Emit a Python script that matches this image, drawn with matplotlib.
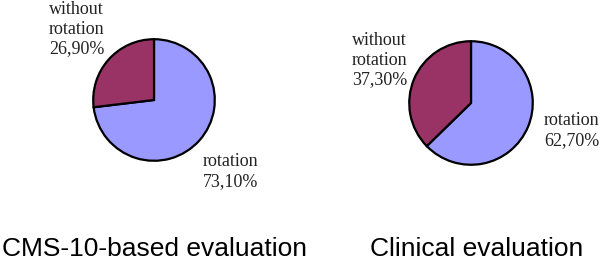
import matplotlib
matplotlib.use("Agg")
from matplotlib import pyplot as plt

# data
slice_names = ['rotation', 'without rotation']
cms_values = [73.1, 26.9]
clinical_values = [62.7, 37.3]
panel_titles = ['CMS-10-based evaluation', 'Clinical evaluation']
colors = ['#9999ff', '#993366']

W, H = 600, 262
fig = plt.figure(figsize=(W / 100, H / 100), dpi=100)
fig.patch.set_facecolor('white')


def pie_axes(cx, cy, r):
    # pixel centre / radius (y from top) -> figure-fraction axes
    return fig.add_axes([(cx - r) / W, (H - cy - r) / H, 2 * r / W, 2 * r / H])


def pct(v):
    return '{:.2f}%'.format(v).replace('.', ',')


def draw_pie(ax, values):
    ax.pie(values, colors=colors, startangle=90, counterclock=False,
           wedgeprops=dict(edgecolor='black', linewidth=1.6))
    ax.set_xlim(-1.02, 1.02)
    ax.set_ylim(-1.02, 1.02)
    ax.set_aspect('equal')
    ax.axis('off')


ax1 = pie_axes(154, 100, 62)
draw_pie(ax1, cms_values)
ax2 = pie_axes(471, 103, 63)
draw_pie(ax2, clinical_values)

serif = dict(family='Liberation Serif', fontsize=13, linespacing=1.2, color='#222222')


def ftext(x, y, s, **kw):
    fig.text(x / W, 1 - y / H, s, **kw)


ftext(49, 1, 'without\nrotation\n' + pct(cms_values[1]), va='top', ha='left', **serif)
ftext(203, 153, slice_names[0] + '\n' + pct(cms_values[0]), va='top', ha='left', **serif)
ftext(352, 32, 'without\nrotation\n' + pct(clinical_values[1]), va='top', ha='left', **serif)
ftext(544, 112, slice_names[0] + '\n' + pct(clinical_values[0]), va='top', ha='left', **serif)

# titles sit close to the bottom edge, keep the descent inside the canvas
sans = dict(family='Liberation Sans', fontsize=19, color='black')
ftext(2, 256, panel_titles[0], va='baseline', ha='left', **sans)
ftext(370, 256, panel_titles[1], va='baseline', ha='left', **sans)

fig.savefig('out.png', dpi=100)
